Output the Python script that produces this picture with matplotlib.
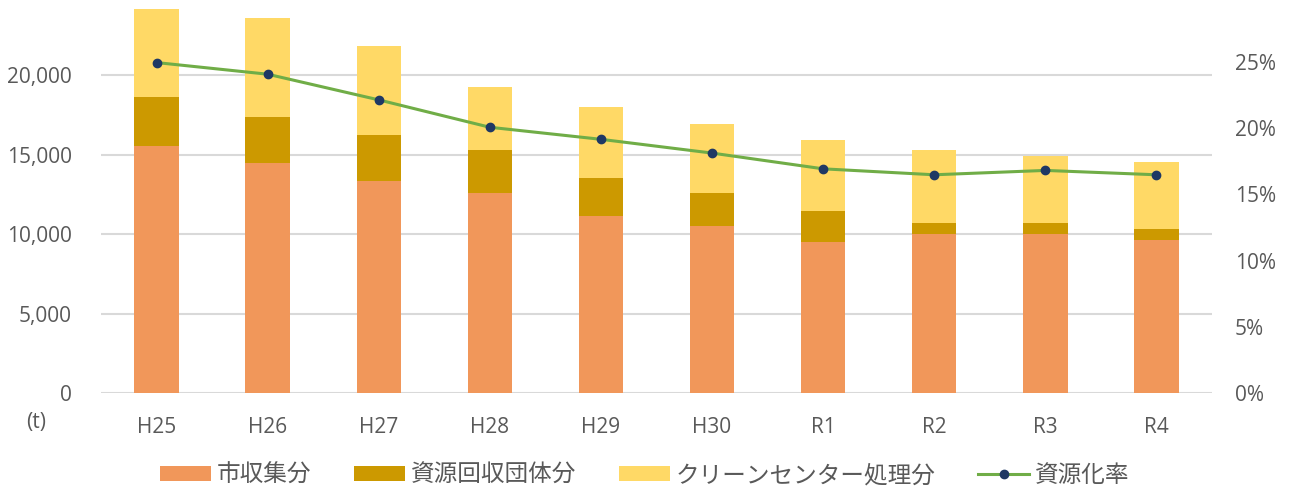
import matplotlib.pyplot as plt
from matplotlib.ticker import FuncFormatter

plt.rcParams['font.family'] = ['Open Sans', 'Noto Sans CJK JP', 'DejaVu Sans']

# years (fiscal)
years = ["H25", "H26", "H27", "H28", "H29", "H30", "R1", "R2", "R3", "R4"]

# tonnes per stream
city_collection = [15550, 14470, 13330, 12580, 11130, 10500, 9500, 10000, 10000, 9620]
group_collection = [3060, 2910, 2940, 2700, 2410, 2080, 1950, 710, 710, 710]
center_processing = [5600, 6210, 5570, 3960, 4490, 4340, 4460, 4570, 4210, 4240]

# recycling rate (%)
recycle_rate = [24.97, 24.09, 22.15, 20.08, 19.17, 18.13, 16.94, 16.49, 16.82, 16.49]

C_CITY = "#F1975A"
C_GROUP = "#CC9900"
C_CENTER = "#FFD966"
C_LINE = "#70AD47"
C_DOT = "#1F3864"
TXT = "#595959"

fig = plt.figure(figsize=(12.9, 4.9), dpi=100)
ax = fig.add_axes([101 / 1290, 1 - 393 / 490, 1111 / 1290, 397 / 490])
ax2 = ax.twinx()

x = list(range(len(years)))
bottom2 = [a + b for a, b in zip(city_collection, group_collection)]
ax.bar(x, city_collection, width=0.4, color=C_CITY, label="市収集分", zorder=2)
ax.bar(x, group_collection, width=0.4, bottom=city_collection, color=C_GROUP,
       label="資源回収団体分", zorder=2)
ax.bar(x, center_processing, width=0.4, bottom=bottom2, color=C_CENTER,
       label="クリーンセンター処理分", zorder=2)

ax2.plot(x, recycle_rate, color=C_LINE, lw=2.2, marker="o", ms=6,
         mfc=C_DOT, mec=C_DOT, label="資源化率", zorder=3)

ax.set_xlim(-0.5, len(years) - 0.5)
ax.set_ylim(0, 25000)
ax.set_yticks([0, 5000, 10000, 15000, 20000])
ax.yaxis.set_major_formatter(FuncFormatter(lambda v, p: f"{int(v):,}"))
ax.grid(axis="y", color="#D9D9D9", lw=1.5, zorder=0)
ax.set_axisbelow(True)
ax.set_xticks(x)
ax.set_xticklabels(years)

ax2.set_ylim(0, 30)
ax2.set_yticks([0, 5, 10, 15, 20, 25])
ax2.yaxis.set_major_formatter(FuncFormatter(lambda v, p: f"{int(v)}%"))

for a in (ax, ax2):
    for s in a.spines.values():
        s.set_visible(False)
    a.tick_params(length=0, colors=TXT, labelsize=15)
ax.tick_params(axis="y", pad=21)
ax.tick_params(axis="x", pad=17)
ax2.tick_params(axis="y", pad=16.5)

fig.text(36 / 1290, 1 - 422 / 490, "(t)", color=TXT, fontsize=15,
         ha="center", va="center")

h1, l1 = ax.get_legend_handles_labels()
h2, l2 = ax2.get_legend_handles_labels()
fig.legend(h1 + h2, l1 + l2, loc="center", bbox_to_anchor=(645 / 1290, 1 - 476 / 490),
           ncol=4, frameon=False, fontsize=17, labelcolor=TXT,
           handlelength=2.16, handleheight=0.6, columnspacing=1.8, handletextpad=0.25)

fig.savefig("out.png", dpi=100)
